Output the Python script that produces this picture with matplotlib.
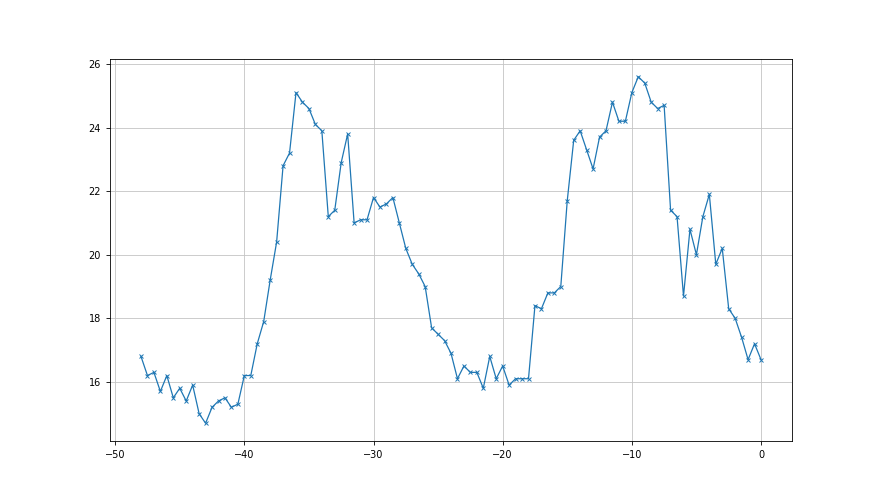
import numpy as np
import matplotlib
matplotlib.use("Agg")
import matplotlib.pyplot as plt

# x positions: half-step samples from -48 to 0
x_vals = np.arange(-48, 0.5, 0.5)

y_vals = [
    16.8, 16.2, 16.3, 15.7, 16.2, 15.5, 15.8, 15.4, 15.9, 15.0,
    14.7, 15.2, 15.4, 15.5, 15.2, 15.3, 16.2, 16.2, 17.2, 17.9,
    19.2, 20.4, 22.8, 23.2, 25.1, 24.8, 24.6, 24.1, 23.9, 21.2,
    21.4, 22.9, 23.8, 21.0, 21.1, 21.1, 21.8, 21.5, 21.6, 21.8,
    21.0, 20.2, 19.7, 19.4, 19.0, 17.7, 17.5, 17.3, 16.9, 16.1,
    16.5, 16.3, 16.3, 15.8, 16.8, 16.1, 16.5, 15.9, 16.1, 16.1,
    16.1, 18.4, 18.3, 18.8, 18.8, 19.0, 21.7, 23.6, 23.9, 23.3,
    22.7, 23.7, 23.9, 24.8, 24.2, 24.2, 25.1, 25.6, 25.4, 24.8,
    24.6, 24.7, 21.4, 21.2, 18.7, 20.8, 20.0, 21.2, 21.9, 19.7,
    20.2, 18.3, 18.0, 17.4, 16.7, 17.2, 16.7,
]

fig, ax = plt.subplots(figsize=(8.8, 4.95), dpi=100)

ax.plot(x_vals, y_vals, color="#1f77b4", linewidth=0.9, marker="x",
        markersize=3.2, markeredgewidth=0.7)

ax.grid(True, color="#c4c4c4", linewidth=0.6)
ax.tick_params(labelsize=7, length=3, width=0.6)
for sp in ax.spines.values():
    sp.set_linewidth(0.6)

fig.savefig("out.png", dpi=100)
